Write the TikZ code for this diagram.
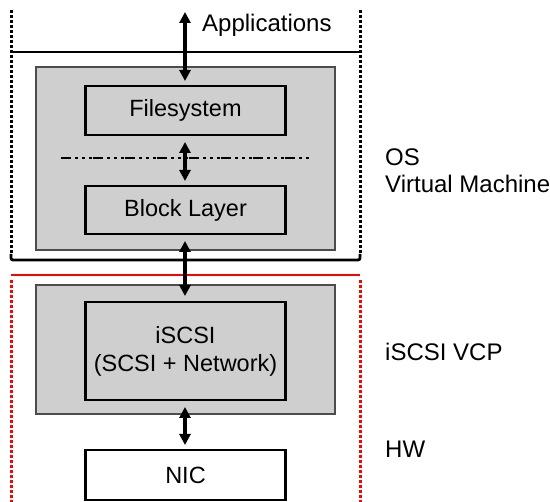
\documentclass[tikz,border=0pt]{standalone}
\usepackage{fontspec}
\setmainfont{Liberation Sans}
\usetikzlibrary{arrows.meta}
\begin{document}
\begin{tikzpicture}[x=1pt,y=-1pt,
  lbl/.style={font=\fontsize{24}{28}\selectfont, inner sep=0pt, anchor=base west},
  graybox/.style={draw=black!70, fill=black!19, line width=1.8pt},
  layerbox/.style={draw=black, line width=2.2pt, font=\fontsize{23.5}{28}\selectfont, align=center, inner sep=0pt},
  dblarrow/.style={line width=3.2pt, {Triangle[length=11pt,width=11pt]}-{Triangle[length=11pt,width=11pt]}},
  dotv/.style={line width=3pt, dash pattern=on 2.6pt off 2.4pt},
]
\useasboundingbox (0,0) rectangle (550,502);
% black frame (OS / VM)
\draw[dotv] (11,10) -- (11,255);
\draw[dotv] (360,10) -- (360,255);
\draw[line width=2.8pt] (11,52) -- (360,52);
\draw[line width=2.8pt, rounded corners=2pt] (11,254) -- (11,260) -- (360,260) -- (360,254);
% red frame
\draw[red, line width=2.8pt] (11,275) -- (360,275);
\draw[red, dotv] (11,280) -- (11,502);
\draw[red, dotv] (360,280) -- (360,502);
% gray boxes
\node[graybox, minimum width=299pt, minimum height=183pt, inner sep=0pt] (os) at (185.5,158.5) {};
\node[graybox, minimum width=299pt, minimum height=129pt, inner sep=0pt] (vcp) at (185.5,349.5) {};
% inner boxes
\node[layerbox, fill=black!19, minimum width=200pt, minimum height=49pt] (fs) at (185.5,110.5) {Filesystem};
\node[layerbox, fill=black!19, minimum width=200pt, minimum height=48pt] (bl) at (185.5,210) {Block Layer};
\node[layerbox, fill=black!19, minimum width=200pt, minimum height=98pt] (iscsi) at (185.5,351) {iSCSI\\(SCSI + Network)};
\node[layerbox, fill=white, minimum width=200pt, minimum height=50pt] (nic) at (185.5,475) {NIC};
% dash-dot separator
\coordinate (dl) at (61,158);
\coordinate (dr) at (310,158);
\draw[line width=2pt, dash pattern=on 10pt off 4pt on 3pt off 4pt on 3pt off 4pt on 3pt off 1pt] (dl) -- (dr);
% arrows
\coordinate (atop) at (185,12);
\coordinate (abot) at (185,81);
\draw[dblarrow] (atop) -- (abot);
\coordinate (m1) at (185,142);
\coordinate (m2) at (185,181);
\draw[dblarrow] (m1) -- (m2);
\coordinate (b1) at (185,241);
\coordinate (b2) at (185,296);
\draw[dblarrow] (b1) -- (b2);
\coordinate (n1) at (185,407);
\coordinate (n2) at (185,445);
\draw[dblarrow] (n1) -- (n2);
% labels
\node[lbl] (apps) at (202,32) {Applications};
\node[lbl] (os1) at (385,166) {OS};
\node[lbl] (os2) at (385,193) {Virtual Machine};
\node[lbl] (vcpl) at (385,361) {iSCSI VCP};
\node[lbl] (hw) at (385,458) {HW};
\end{tikzpicture}
\end{document}
